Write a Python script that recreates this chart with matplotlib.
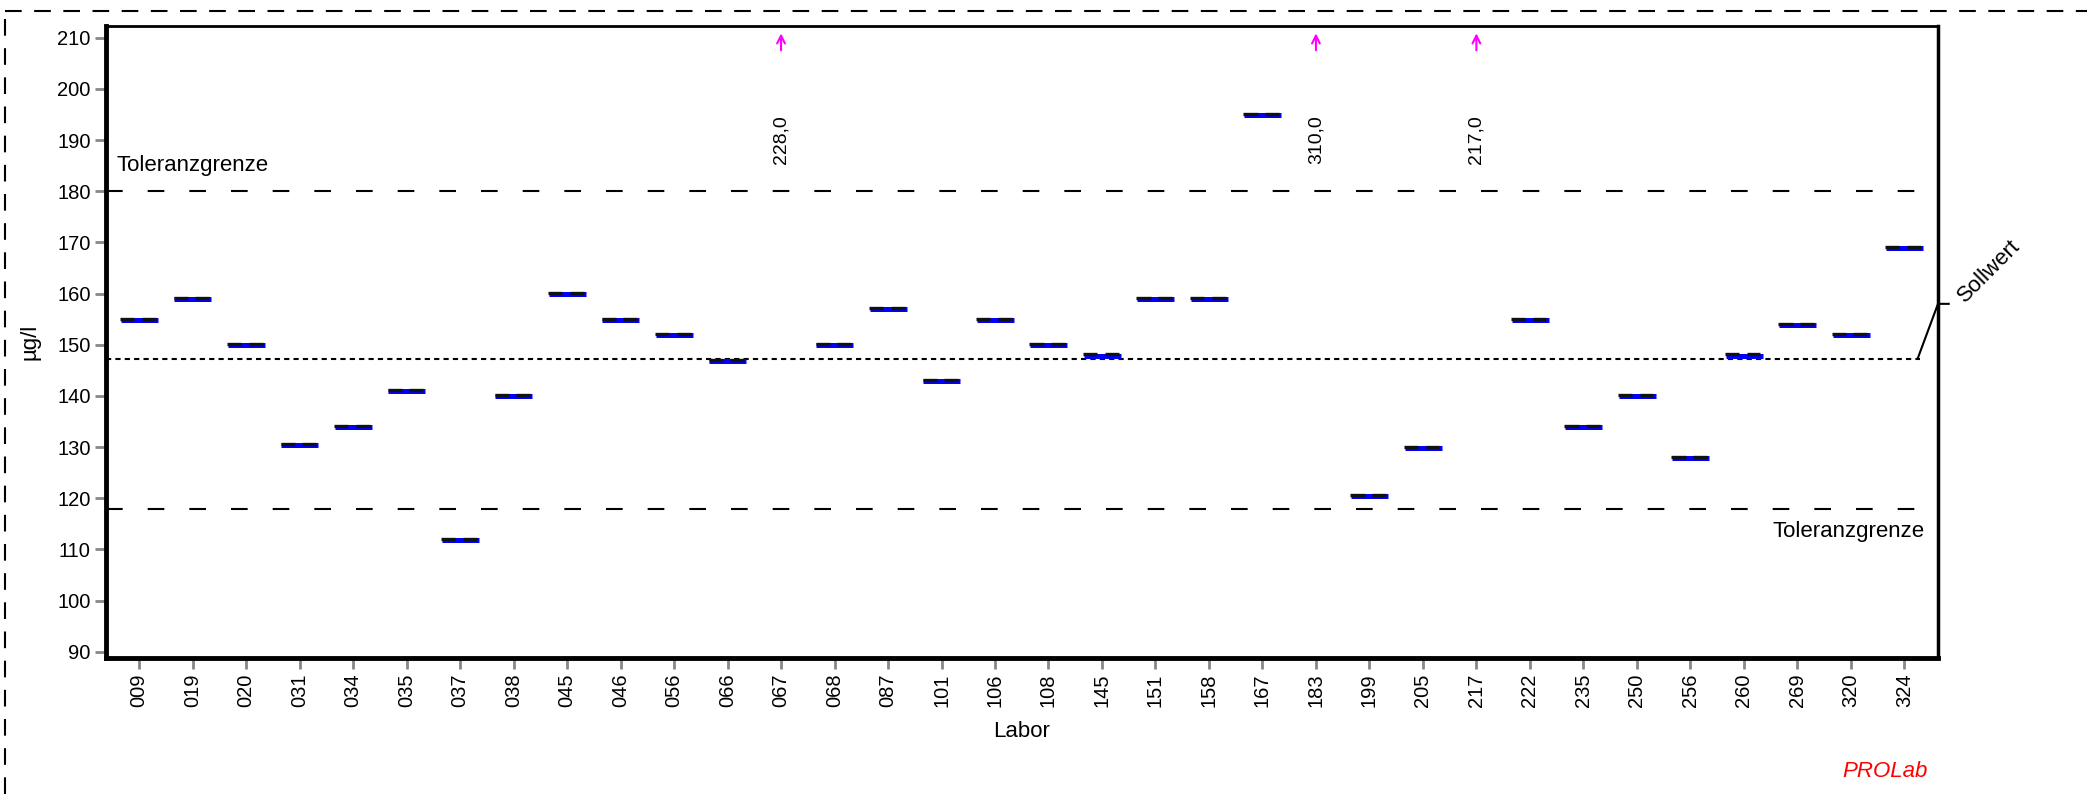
import matplotlib.pyplot as plt
from matplotlib.lines import Line2D

plt.rcParams['font.family'] = ['Liberation Sans', 'DejaVu Sans']

# Labore und Messwerte (µg/l)
labore = ['009', '019', '020', '031', '034', '035', '037', '038', '045', '046',
          '056', '066', '067', '068', '087', '101', '106', '108', '145', '151',
          '158', '167', '183', '199', '205', '217', '222', '235', '250', '256',
          '260', '269', '320', '324']
werte = [155, 159, 150, 130.5, 134, 141, 112, 140, 160, 155,
         152, 147, 228.0, 150, 157, 143, 155, 150, 148, 159,
         159, 195, 310.0, 120.5, 130, 217.0, 155, 134, 140, 128,
         148, 154, 152, 169]

sollwert = 147.3
tol_oben = 180
tol_unten = 118
y_min, y_max = 88.8, 212.3

fig = plt.figure(figsize=(20.87, 7.94), dpi=100)
ax = fig.add_axes([0.0508, 0.1713, 0.8778, 0.796])

x_pos = list(range(len(labore)))
ax.set_xlim(-0.62, len(labore) - 0.37)
ax.set_ylim(y_min, y_max)

# Toleranzgrenzen und Sollwert
ax.axhline(tol_oben, color='black', lw=1.5, ls=(0, (8, 12)))
ax.axhline(tol_unten, color='black', lw=1.5, ls=(0, (8, 12)))
ax.plot([-0.62, 33.3], [sollwert, sollwert], color='black', lw=1.5, ls=(0, (2.5, 2)))

for i, w in zip(x_pos, werte):
    if w > y_max:
        # Ausreisser: Pfeil nach oben und Wert
        ax.annotate('', xy=(i, 211.4), xytext=(i, 207.0),
                    arrowprops=dict(arrowstyle='->', color='#ff00ff', lw=1.5,
                                    mutation_scale=14))
        ax.text(i, 185.3, f'{w:.1f}'.replace('.', ','), rotation=90,
                ha='center', va='bottom', fontsize=14)
    else:
        ax.plot([i - 0.34, i + 0.35], [w - 0.1, w - 0.1], color='#0000ff', lw=3.6,
                solid_capstyle='butt')
        ax.plot([i - 0.355, i - 0.09], [w + 0.12, w + 0.12], color='#111111', lw=2.4,
                solid_capstyle='butt')
        ax.plot([i + 0.05, i + 0.31], [w + 0.12, w + 0.12], color='#111111', lw=2.4,
                solid_capstyle='butt')

ax.text(-0.43, 185.0, 'Toleranzgrenze', fontsize=16, ha='left', va='center')
ax.text(33.38, 113.5, 'Toleranzgrenze', fontsize=16, ha='right', va='center')

# Sollwert-Beschriftung rechts
ax.plot([33.25, 33.63, 33.83], [sollwert, 158.0, 158.0], color='black', lw=1.5,
        clip_on=False)
ax.text(34.2, 157.5, 'Sollwert', rotation=45, fontsize=16, ha='left', va='bottom',
        rotation_mode='anchor')

ax.set_xticks(x_pos)
ax.set_xticklabels(labore, rotation=90, fontsize=14.5)
ax.set_yticks(range(90, 211, 10))
ax.tick_params(axis='y', labelsize=14.5)
ax.tick_params(axis='both', color='#888888', width=2, length=8, pad=3)

ax.spines['left'].set_linewidth(3.5)
ax.spines['bottom'].set_linewidth(3.5)
ax.spines['top'].set_linewidth(2)
ax.spines['right'].set_linewidth(2.5)

ax.set_ylabel('µg/l', fontsize=16)
ax.yaxis.set_label_coords(-0.0415, 0.5)
ax.set_xlabel('Labor', fontsize=16)
ax.xaxis.set_label_coords(0.5, -0.117)
ax.xaxis.label.set_va('center')
ax.yaxis.label.set_va('center')

fig.text(0.9237, 0.028, 'PROLab', color='red', fontsize=16, style='italic',
         ha='right', va='center')

# gestrichelter Rahmen
fig.add_artist(Line2D([0.0024, 1.0], [0.9865, 0.9865], color='black', lw=1.5,
                      ls=(0, (8, 6))))
fig.add_artist(Line2D([0.0024, 0.0024], [0.0, 0.9865], color='black', lw=1.5,
                      ls=(0, (8, 6))))

fig.savefig('out.png', dpi=100)
